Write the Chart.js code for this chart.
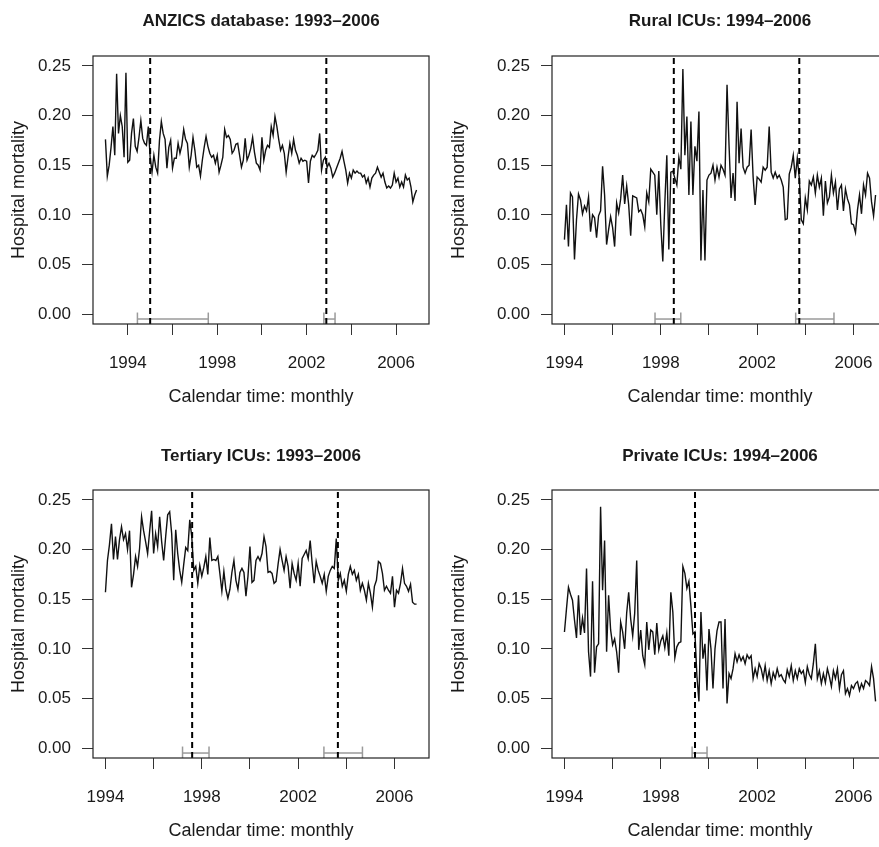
<!DOCTYPE html>
<html><head><meta charset="utf-8">
<script src="https://cdn.jsdelivr.net/npm/chart.js@4"></script>
<style>
html,body{margin:0;padding:0;background:#fff;overflow:hidden;width:879px;height:847px;position:relative}
canvas{position:absolute}
</style></head><body>
<canvas id="c0" width="440" height="424" style="left:0px;top:0px"></canvas>
<canvas id="c1" width="460" height="424" style="left:440px;top:0px"></canvas>
<canvas id="c2" width="440" height="424" style="left:0px;top:434px"></canvas>
<canvas id="c3" width="460" height="424" style="left:440px;top:434px"></canvas>
<script>
const titles = ['ANZICS database: 1993\u20132006', 'Rural ICUs: 1994\u20132006', 'Tertiary ICUs: 1993\u20132006', 'Private ICUs: 1994\u20132006'];
const xAxisTitle = 'Calendar time: monthly';
const yAxisTitle = 'Hospital mortality';
const yTicks = [0, 0.05, 0.10, 0.15, 0.20, 0.25];
const xTicks = [1994, 1996, 1998, 2000, 2002, 2004, 2006];
const xLabelYears = [1994, 1998, 2002, 2006];
const startYears = [1993, 1994, 1994, 1994];

const anzics = [
0.176,0.139,0.150,0.168,0.189,0.160,0.242,0.182,0.200,0.189,0.158,0.243,
0.153,0.155,0.182,0.197,0.169,0.164,0.178,0.195,0.177,0.172,0.170,0.189,
0.158,0.143,0.160,0.148,0.142,0.175,0.194,0.182,0.176,0.147,0.168,0.175,
0.147,0.157,0.157,0.172,0.162,0.170,0.186,0.176,0.172,0.148,0.160,0.178,
0.165,0.148,0.150,0.139,0.155,0.168,0.179,0.169,0.162,0.158,0.160,0.152,
0.160,0.143,0.150,0.158,0.186,0.178,0.180,0.176,0.162,0.165,0.171,0.172,
0.160,0.148,0.155,0.177,0.155,0.160,0.167,0.178,0.163,0.152,0.150,0.145,
0.178,0.155,0.165,0.170,0.168,0.189,0.180,0.199,0.189,0.176,0.165,0.170,
0.162,0.143,0.158,0.172,0.162,0.176,0.165,0.160,0.152,0.157,0.154,0.155,
0.154,0.132,0.154,0.160,0.158,0.161,0.165,0.182,0.145,0.155,0.158,0.148,
0.152,0.147,0.138,0.142,0.147,0.152,0.157,0.164,0.154,0.145,0.132,0.142,
0.137,0.145,0.142,0.144,0.142,0.142,0.138,0.140,0.132,0.137,0.128,0.137,
0.140,0.142,0.148,0.143,0.138,0.142,0.133,0.127,0.129,0.127,0.130,0.142,
0.133,0.137,0.128,0.133,0.128,0.140,0.135,0.137,0.128,0.113,0.120,0.125];

const rural = [
0.075,0.110,0.068,0.122,0.118,0.055,0.095,0.121,0.115,0.101,0.109,0.104,
0.118,0.083,0.100,0.097,0.077,0.099,0.104,0.149,0.120,0.070,0.085,0.098,
0.087,0.068,0.112,0.102,0.116,0.140,0.111,0.129,0.110,0.079,0.119,0.118,
0.117,0.103,0.105,0.100,0.088,0.122,0.113,0.146,0.143,0.140,0.100,0.144,
0.090,0.053,0.112,0.160,0.065,0.143,0.144,0.137,0.130,0.158,0.146,0.247,
0.160,0.199,0.120,0.194,0.120,0.169,0.154,0.204,0.054,0.125,0.054,0.135,
0.140,0.142,0.150,0.135,0.148,0.138,0.150,0.146,0.140,0.231,0.170,0.117,
0.142,0.114,0.214,0.152,0.187,0.148,0.142,0.148,0.150,0.186,0.138,0.110,
0.138,0.136,0.133,0.148,0.145,0.148,0.189,0.143,0.137,0.143,0.137,0.140,
0.135,0.128,0.095,0.096,0.141,0.148,0.160,0.137,0.157,0.137,0.095,0.091,
0.117,0.105,0.134,0.130,0.138,0.122,0.140,0.128,0.137,0.099,0.134,0.112,
0.118,0.140,0.122,0.133,0.105,0.126,0.130,0.104,0.126,0.116,0.110,0.091,
0.090,0.082,0.105,0.120,0.101,0.130,0.120,0.142,0.137,0.113,0.099,0.120];

const tertiary = [
0.157,0.189,0.205,0.226,0.190,0.213,0.190,0.210,0.223,0.210,0.216,0.200,
0.219,0.162,0.175,0.193,0.183,0.201,0.233,0.219,0.208,0.196,0.218,0.239,
0.196,0.216,0.203,0.233,0.208,0.189,0.213,0.235,0.238,0.216,0.169,0.220,
0.196,0.179,0.167,0.185,0.202,0.199,0.230,0.213,0.179,0.183,0.166,0.184,
0.173,0.182,0.193,0.175,0.212,0.189,0.190,0.189,0.193,0.176,0.158,0.178,
0.160,0.151,0.160,0.177,0.189,0.169,0.160,0.177,0.181,0.177,0.153,0.173,
0.203,0.167,0.169,0.189,0.193,0.189,0.196,0.213,0.203,0.177,0.178,0.176,
0.166,0.168,0.185,0.200,0.189,0.179,0.193,0.183,0.161,0.186,0.176,0.169,
0.186,0.163,0.191,0.195,0.199,0.191,0.209,0.186,0.166,0.188,0.179,0.173,
0.166,0.175,0.158,0.173,0.179,0.183,0.181,0.211,0.169,0.176,0.163,0.169,
0.158,0.175,0.183,0.175,0.179,0.169,0.175,0.159,0.166,0.159,0.149,0.166,
0.156,0.142,0.163,0.169,0.188,0.186,0.176,0.159,0.163,0.159,0.156,0.173,
0.142,0.159,0.156,0.166,0.181,0.166,0.163,0.158,0.165,0.147,0.145,0.145];

const privateIcu = [
0.117,0.140,0.162,0.155,0.149,0.129,0.111,0.154,0.114,0.131,0.116,0.181,
0.097,0.072,0.168,0.076,0.102,0.105,0.243,0.159,0.209,0.097,0.154,0.119,
0.104,0.110,0.097,0.076,0.127,0.117,0.100,0.136,0.157,0.130,0.113,0.136,
0.189,0.099,0.119,0.093,0.084,0.127,0.099,0.119,0.117,0.094,0.126,0.099,
0.108,0.113,0.101,0.116,0.093,0.157,0.137,0.091,0.102,0.106,0.107,0.183,
0.176,0.161,0.168,0.143,0.115,0.117,0.072,0.047,0.137,0.090,0.105,0.058,
0.120,0.100,0.060,0.100,0.118,0.127,0.127,0.060,0.130,0.045,0.075,0.070,
0.080,0.095,0.087,0.094,0.088,0.092,0.085,0.094,0.090,0.093,0.070,0.080,
0.072,0.085,0.080,0.070,0.083,0.068,0.078,0.065,0.076,0.070,0.080,0.072,
0.074,0.069,0.066,0.079,0.072,0.083,0.068,0.078,0.070,0.080,0.075,0.078,
0.066,0.082,0.074,0.070,0.085,0.105,0.070,0.078,0.065,0.075,0.066,0.080,
0.072,0.062,0.078,0.070,0.080,0.060,0.074,0.078,0.055,0.060,0.053,0.063,
0.060,0.065,0.067,0.058,0.065,0.060,0.068,0.066,0.063,0.082,0.070,0.047];

const seriesList = [anzics, rural, tertiary, privateIcu];
const changePoints = [[1995.0, 2002.88], [1998.54, 2003.75], [1997.6, 2003.65], [1999.42]];
const ciLow  = [[1994.43, 2002.77], [1997.76, 2003.60], [1997.20, 2003.07], [1999.30]];
const ciHigh = [[1997.60, 2003.27], [1998.83, 2005.19], [1998.30, 2004.67], [1999.92]];
const ciLevel = -0.005;

// layout (styles only)
const FONT = "'Liberation Sans', Arial, Helvetica, sans-serif";
const TXT = '#1a1a1a';
const panels = [
  {id:'c0', H:424, areaLeft:93,  areaRight:429, xmin:1992.443, xmax:2007.473, tPad:[11,24.6]},
  {id:'c1', H:424, areaLeft:112, areaRight:448, xmin:1993.483, xmax:2007.433, tPad:[11,24.6]},
  {id:'c2', H:424, areaLeft:93,  areaRight:429, xmin:1993.483, xmax:2007.433, tPad:[12,23.6]},
  {id:'c3', H:424, areaLeft:112, areaRight:448, xmin:1993.483, xmax:2007.433, tPad:[12,23.6]}
];

const boxPlugin = {
  id:'box',
  afterDatasetsDraw(chart){
    const {ctx, chartArea:a} = chart;
    ctx.save();
    ctx.strokeStyle = '#222';
    ctx.lineWidth = 1.2;
    ctx.strokeRect(a.left, a.top, a.right - a.left, a.bottom - a.top);
    ctx.restore();
  }
};

panels.forEach((p, k) => {
  const canvas = document.getElementById(p.id);
  const W = canvas.width;
  const vals = seriesList[k];
  const datasets = [];
  changePoints[k].forEach(cp => {
    datasets.push({
      data:[{x:cp, y:-0.01}, {x:cp, y:0.26}],
      borderColor:'#000', borderWidth:2, borderDash:[6,4], pointRadius:0, order:0
    });
  });
  ciLow[k].forEach((lo, j) => {
    datasets.push({
      data:[{x:lo, y:ciLevel}, {x:ciHigh[k][j], y:ciLevel}],
      borderColor:'#9a9a9a', borderWidth:1.5, pointStyle:'line', pointRotation:90,
      pointRadius:6.5, pointBorderColor:'#9a9a9a', pointBorderWidth:1.5, order:1
    });
  });
  datasets.push({
    data: vals.map((v, i) => ({x: startYears[k] + i / 12, y: v})),
    borderColor:'#111', borderWidth:1.4, pointRadius:0, tension:0, order:2
  });

  new Chart(canvas, {
    type:'line',
    data:{datasets},
    plugins:[boxPlugin],
    options:{
      responsive:false, animation:false, devicePixelRatio:1,
      layout:{padding:{left:0, top:0, bottom:0, right: W - p.areaRight}},
      plugins:{
        legend:{display:false}, tooltip:{enabled:false},
        title:{display:true, text:titles[k], fullSize:false, color:TXT,
               font:{family:FONT, size:17, weight:'bold', lineHeight:1.2},
               padding:{top:p.tPad[0], bottom:p.tPad[1]}}
      },
      scales:{
        x:{
          type:'linear', min:p.xmin, max:p.xmax,
          afterBuildTicks:s => { s.ticks = xTicks.map(v => ({value:v})); },
          afterFit:s => { s.height = p.H - 324; s.paddingLeft = 0; s.paddingRight = 0; },
          ticks:{autoSkip:false, maxRotation:0, minRotation:0, padding:18, color:TXT,
                 font:{family:FONT, size:17},
                 callback:v => xLabelYears.includes(v) ? String(v) : ''},
          grid:{drawOnChartArea:false, drawTicks:true, tickLength:11, color:'#333', lineWidth:1},
          border:{display:false},
          title:{display:true, text:xAxisTitle, color:TXT, font:{family:FONT, size:18},
                 padding:{top:0, bottom:16}}
        },
        y:{
          min:-0.01, max:0.26,
          afterBuildTicks:s => { s.ticks = yTicks.map(v => ({value:v})); },
          afterFit:s => { s.width = p.areaLeft; s.paddingTop = 0; s.paddingBottom = 0; },
          ticks:{padding:11, color:TXT, font:{family:FONT, size:17},
                 callback:v => Number(v).toFixed(2)},
          grid:{drawOnChartArea:false, drawTicks:true, tickLength:11, color:'#333', lineWidth:1},
          border:{display:false},
          title:{display:true, text:yAxisTitle, color:TXT, font:{family:FONT, size:18},
                 padding:{top:8, bottom:0}}
        }
      }
    }
  });
});
</script>
</body></html>
